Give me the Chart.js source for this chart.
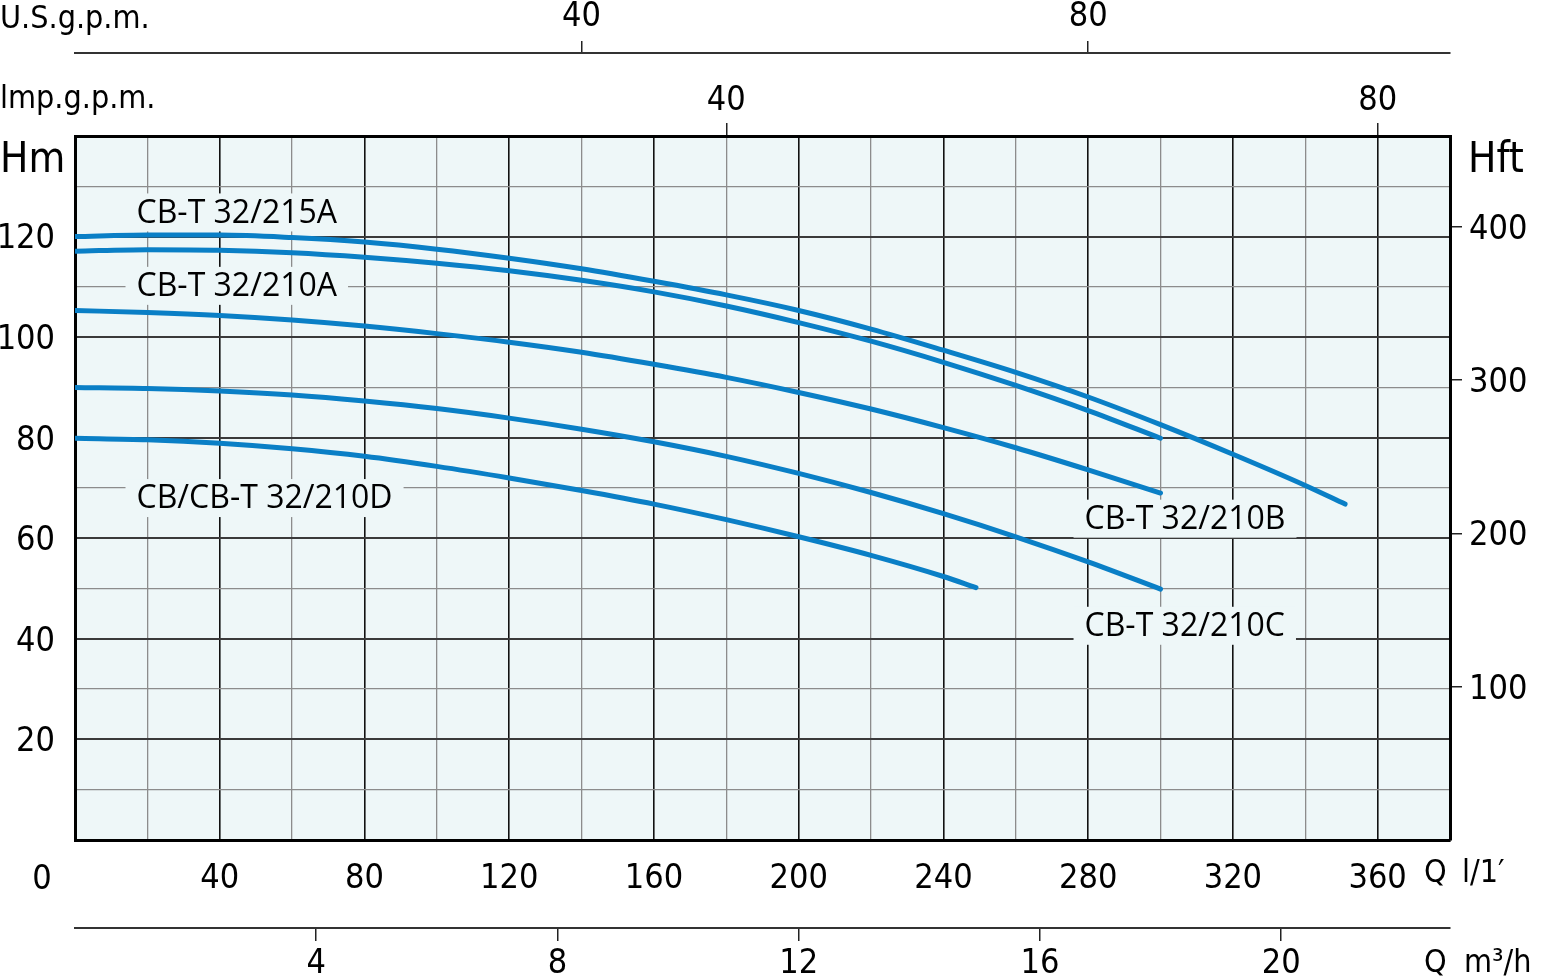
<!DOCTYPE html>
<html>
<head>
<meta charset="utf-8">
<script src="https://cdn.jsdelivr.net/npm/chart.js@4.4.1/dist/chart.umd.min.js"></script>
<style>
    html, body { margin: 0; padding: 0; background: #fff; }
</style>
</head>
<body>
<canvas id="pumpChart" width="1542" height="978"></canvas>
<script>
// Pump curves: flow Q in l/min, head H in metres
const flow215A = [0, 20, 40, 60, 80, 100, 120, 140, 160, 180, 200, 220, 240, 260, 280, 300, 320, 340, 351];
const head215A = [120.0, 120.3, 120.3, 119.8, 118.9, 117.5, 115.7, 113.6, 111.1, 108.4, 105.3, 101.6, 97.4, 93.0, 88.1, 82.6, 76.7, 70.5, 66.8];

const flow210A = [0, 20, 40, 60, 80, 100, 120, 140, 160, 180, 200, 220, 240, 260, 280, 300];
const head210A = [117.1, 117.4, 117.3, 116.8, 115.9, 114.7, 113.2, 111.3, 109.0, 106.2, 102.9, 99.2, 95.0, 90.4, 85.4, 79.9];

const flow210B = [0, 20, 40, 60, 80, 100, 120, 140, 160, 180, 200, 220, 240, 260, 280, 300];
const head210B = [105.3, 104.9, 104.3, 103.4, 102.2, 100.7, 99.0, 97.0, 94.6, 92.0, 89.0, 85.7, 82.0, 78.0, 73.6, 69.0];

const flow210C = [0, 20, 40, 60, 80, 100, 120, 140, 160, 180, 200, 220, 240, 260, 280, 300];
const head210C = [90.0, 89.8, 89.3, 88.5, 87.3, 85.8, 83.9, 81.7, 79.2, 76.3, 72.9, 69.1, 64.9, 60.3, 55.3, 49.9];

const flow210D = [0, 20, 40, 60, 80, 100, 120, 140, 160, 180, 200, 220, 240, 249];
const head210D = [79.9, 79.6, 78.9, 77.8, 76.3, 74.3, 72.0, 69.5, 66.8, 63.7, 60.3, 56.6, 52.4, 50.2];

const curveNames = ['CB-T 32/215A', 'CB-T 32/210A', 'CB-T 32/210B', 'CB-T 32/210C', 'CB/CB-T 32/210D'];

// Axis ranges (l/min and metres) and unit conversions used by the drawing
const qMax = 380;
const hMax = 140;
const impGal = 4.5;   // l per Imp. gallon as drawn
const usGal = 3.5;    // l per U.S. gallon as drawn
const ftPerM = 1 / 0.3048;

const curveColor = '#0a7fc6';
const plotBg = '#eef7f8';
const axisFamily = '"DejaVu Sans Condensed", "Liberation Sans", sans-serif';
const tickFont = { family: axisFamily, size: 34, lineHeight: 1 };

function toPoints(flow, head) {
    return flow.map((q, i) => ({ x: q, y: head[i] }));
}

// Fill the plot area
const plotBackground = {
    id: 'plotBackground',
    beforeDraw(chart) {
        const { ctx, chartArea } = chart;
        ctx.save();
        ctx.fillStyle = plotBg;
        ctx.fillRect(chartArea.left, chartArea.top, chartArea.right - chartArea.left, chartArea.bottom - chartArea.top);
        ctx.restore();
    }
};

// Curve names, on a box of plot colour that hides the grid behind them
const curveLabels = {
    id: 'curveLabels',
    beforeDatasetsDraw(chart, args, opts) {
        const { ctx, scales } = chart;
        ctx.save();
        ctx.font = '32px "Open Sans"';
        ctx.textBaseline = 'middle';
        opts.items.forEach(item => {
            const x = scales.x.getPixelForValue(item.q);
            const y = scales.y.getPixelForValue(item.h);
            const w = ctx.measureText(item.text).width;
            ctx.fillStyle = plotBg;
            ctx.fillRect(x - 11, y - 19, w + 22, 38);
            ctx.fillStyle = '#000';
            ctx.fillText(item.text, x, y + 1);
        });
        ctx.restore();
    }
};

// Unit captions round the frame
const unitCaptions = {
    id: 'unitCaptions',
    afterDraw(chart) {
        const { ctx } = chart;
        ctx.save();
        ctx.fillStyle = '#000';
        ctx.textBaseline = 'alphabetic';
        ctx.font = '32px ' + axisFamily;
        ctx.fillText('U.S.g.p.m.', 0, 28);
        ctx.fillText('lmp.g.p.m.', 0, 108);
        ctx.fillText('Q', 1424, 882);
        ctx.fillText('l/1′', 1462, 882);
        ctx.fillText('Q', 1424, 972);
        ctx.fillText('m³/h', 1464, 972);
        ctx.font = '34px ' + axisFamily;
        ctx.textAlign = 'center';
        ctx.fillText('0', 42, 889);
        ctx.textAlign = 'left';
        ctx.font = '42px ' + axisFamily;
        ctx.fillText('Hm', 0, 172);
        ctx.fillText('Hft', 1468, 172);
        ctx.restore();
    }
};

const ctx = document.getElementById('pumpChart').getContext('2d');
const pumpChart = new Chart(ctx, {
    type: 'line',
    data: {
        datasets: [
            { label: curveNames[0], data: toPoints(flow215A, head215A) },
            { label: curveNames[1], data: toPoints(flow210A, head210A) },
            { label: curveNames[2], data: toPoints(flow210B, head210B) },
            { label: curveNames[3], data: toPoints(flow210C, head210C) },
            { label: curveNames[4], data: toPoints(flow210D, head210D) }
        ].map(ds => Object.assign(ds, {
            borderColor: curveColor,
            borderWidth: 5,
            borderCapStyle: 'round',
            borderJoinStyle: 'round',
            pointRadius: 0,
            cubicInterpolationMode: 'monotone',
            xAxisID: 'x',
            yAxisID: 'y'
        }))
    },
    options: {
        responsive: false,
        devicePixelRatio: 1,
        animation: false,
        layout: { padding: 0 },
        plugins: {
            legend: { display: false },
            tooltip: { enabled: false },
            curveLabels: {
                items: [
                    { text: curveNames[0], q: 17, h: 124.8 },
                    { text: curveNames[1], q: 17, h: 110.2 },
                    { text: curveNames[4], q: 17, h: 68.0 },
                    { text: curveNames[2], q: 279, h: 63.9 },
                    { text: curveNames[3], q: 279, h: 42.6 }
                ]
            }
        },
        scales: {
            // Q l/min
            x: {
                type: 'linear',
                position: 'bottom',
                weight: 0,
                min: 0,
                max: qMax,
                border: { color: '#000', width: 3 },
                grid: {
                    drawTicks: false,
                    color: c => c.tick.value % 40 === 0 ? '#111' : '#8c8c8c',
                    lineWidth: c => c.tick.value % 40 === 0 ? 1.6 : 1.3
                },
                ticks: {
                    stepSize: 20,
                    autoSkip: false,
                    maxRotation: 0,
                    padding: 22,
                    color: '#000',
                    font: tickFont,
                    callback: v => (v % 40 === 0 && v !== 0) ? String(v) : ''
                },
                afterFit: s => { s.height = 88; }
            },
            // Q m3/h
            m3: {
                type: 'linear',
                position: 'bottom',
                weight: 1,
                min: 0,
                max: qMax * 60 / 1000,
                border: { color: '#333', width: 2 },
                grid: {
                    drawOnChartArea: false,
                    tickLength: 13,
                    color: c => c.tick.value === 0 ? 'rgba(0,0,0,0)' : '#222',
                    lineWidth: 1.5
                },
                ticks: {
                    stepSize: 4,
                    includeBounds: false,
                    autoSkip: false,
                    maxRotation: 0,
                    padding: 6,
                    color: '#000',
                    font: tickFont,
                    callback: v => v === 0 ? '' : String(v)
                },
                afterFit: s => { s.height = 50; }
            },
            // Imp. g.p.m.
            imp: {
                type: 'linear',
                position: 'top',
                weight: 0,
                min: 0,
                max: qMax / impGal,
                border: { color: '#000', width: 3 },
                grid: {
                    drawOnChartArea: false,
                    tickLength: 13,
                    color: c => c.tick.value === 0 ? 'rgba(0,0,0,0)' : '#222',
                    lineWidth: 1.5
                },
                ticks: {
                    stepSize: 40,
                    includeBounds: false,
                    autoSkip: false,
                    maxRotation: 0,
                    padding: 5,
                    color: '#000',
                    font: tickFont,
                    callback: v => v === 0 ? '' : String(v)
                },
                afterFit: s => { s.height = 83; }
            },
            // U.S. g.p.m.
            us: {
                type: 'linear',
                position: 'top',
                weight: 1,
                min: 0,
                max: qMax / usGal,
                border: { color: '#333', width: 2 },
                grid: {
                    drawOnChartArea: false,
                    tickLength: 12,
                    color: c => c.tick.value === 0 ? 'rgba(0,0,0,0)' : '#222',
                    lineWidth: 1.5
                },
                ticks: {
                    stepSize: 40,
                    includeBounds: false,
                    autoSkip: false,
                    maxRotation: 0,
                    padding: 7,
                    color: '#000',
                    font: tickFont,
                    callback: v => v === 0 ? '' : String(v)
                },
                afterFit: s => { s.height = 53; }
            },
            // H m
            y: {
                type: 'linear',
                position: 'left',
                min: 0,
                max: hMax,
                border: { color: '#000', width: 3 },
                grid: {
                    drawTicks: false,
                    color: c => c.tick.value % 20 === 0 ? '#3a3a3a' : '#8c8c8c',
                    lineWidth: c => c.tick.value % 20 === 0 ? 2 : 1.3
                },
                ticks: {
                    stepSize: 10,
                    autoSkip: false,
                    padding: 20,
                    labelOffset: 3,
                    color: '#000',
                    font: tickFont,
                    callback: v => (v % 20 === 0 && v > 0 && v < hMax) ? String(v) : ''
                },
                afterFit: s => { s.width = 75; }
            },
            // H ft
            ft: {
                type: 'linear',
                position: 'right',
                min: 0,
                max: hMax * ftPerM,
                border: { color: '#000', width: 3 },
                grid: {
                    drawOnChartArea: false,
                    tickLength: 12,
                    color: c => c.tick.value === 0 ? 'rgba(0,0,0,0)' : '#222',
                    lineWidth: 1.5
                },
                ticks: {
                    stepSize: 100,
                    includeBounds: false,
                    autoSkip: false,
                    padding: 7,
                    labelOffset: 3,
                    color: '#000',
                    font: tickFont,
                    callback: v => v === 0 ? '' : String(v)
                },
                afterFit: s => { s.width = 92; }
            }
        }
    },
    plugins: [plotBackground, curveLabels, unitCaptions]
});
</script>
</body>
</html>
